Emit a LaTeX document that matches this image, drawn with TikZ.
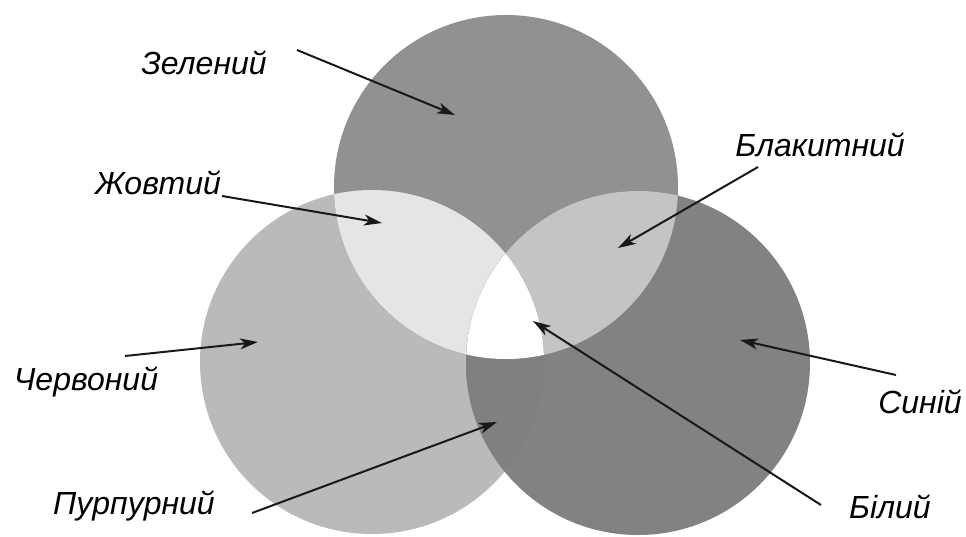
\documentclass[tikz,border=0pt]{standalone}
\usepackage{fontspec}
\setmainfont{Liberation Sans}
\usetikzlibrary{arrows.meta}
\definecolor{cgreen}{gray}{0.57}
\definecolor{cred}{gray}{0.73}
\definecolor{cblue}{gray}{0.51}
\definecolor{cyellow}{gray}{0.90}
\definecolor{ccyan}{gray}{0.77}
\definecolor{cmag}{gray}{0.50}
\tikzset{
  lbl/.style={font=\itshape\fontsize{32}{36}\selectfont, inner sep=0pt, anchor=center},
  ptr/.style={line width=2pt, black!90, -{Stealth[length=18pt,width=11pt,inset=5pt]}}
}
\begin{document}
\begin{tikzpicture}[x=1pt,y=-1pt]
\useasboundingbox (0,0) rectangle (966,536);
\fill[white] (0,0) rectangle (966,536);
% circle centres
\coordinate (G) at (506,187);
\coordinate (R) at (372,362);
\coordinate (B) at (638,363);
\def\rad{172}
% base circles
\fill[cred] (R) circle[radius=\rad];
\fill[cgreen] (G) circle[radius=\rad];
\fill[cblue] (B) circle[radius=\rad];
% pairwise overlaps
\begin{scope}
  \clip (R) circle[radius=\rad];
  \fill[cyellow] (G) circle[radius=\rad];
\end{scope}
\begin{scope}
  \clip (G) circle[radius=\rad];
  \fill[ccyan] (B) circle[radius=\rad];
\end{scope}
\begin{scope}
  \clip (R) circle[radius=\rad];
  \fill[cmag] (B) circle[radius=\rad];
\end{scope}
\begin{scope}
  \clip (R) circle[radius=\rad];
  \clip (G) circle[radius=\rad];
  \fill[white] (B) circle[radius=\rad];
\end{scope}
% labels
\node[lbl] (lg) at (204,63) {Зелений};
\node[lbl] (ly) at (158,183) {Жовтий};
\node[lbl] (lc) at (820,145) {Блакитний};
\node[lbl] (lr) at (86,382) {Червоний};
\node[lbl] (lm) at (134,506) {Пурпурний};
\node[lbl] (lb) at (920,402) {Синій};
\node[lbl] (lw) at (890,507) {Білий};
% arrow ends
\coordinate (tg) at (297,50);   \coordinate (hg) at (455,115);
\coordinate (ty) at (222,196);  \coordinate (hy) at (382,223);
\coordinate (tc) at (758,167);  \coordinate (hc) at (618,248);
\coordinate (tr) at (125,356);  \coordinate (hr) at (258,342);
\coordinate (tm) at (252,513);  \coordinate (hm) at (497,422);
\coordinate (tb) at (896,375);  \coordinate (hb) at (740,340);
\coordinate (tw) at (821,505);  \coordinate (hw) at (533,321);
\draw[ptr] (tg) -- (hg);
\draw[ptr] (ty) -- (hy);
\draw[ptr] (tc) -- (hc);
\draw[ptr] (tr) -- (hr);
\draw[ptr] (tm) -- (hm);
\draw[ptr] (tb) -- (hb);
\draw[ptr] (tw) -- (hw);
\end{tikzpicture}
\end{document}
